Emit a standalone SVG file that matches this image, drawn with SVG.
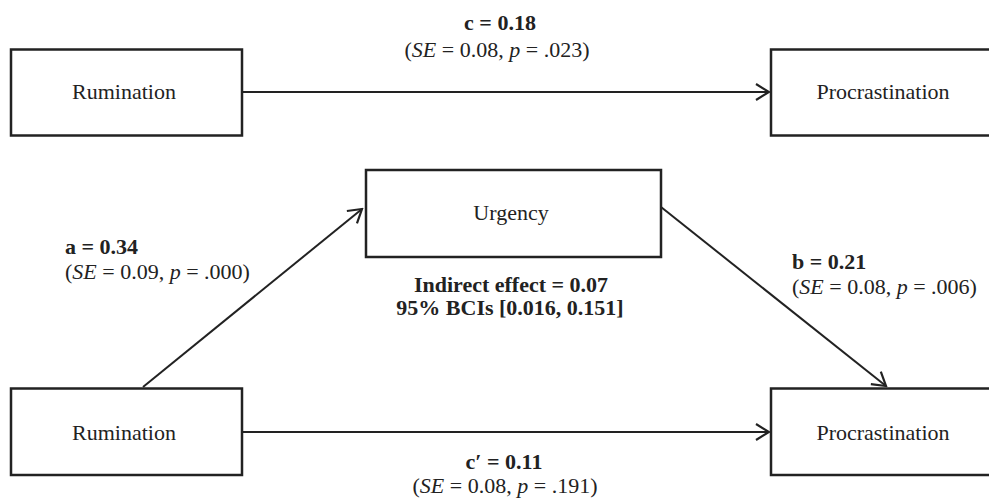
<svg xmlns="http://www.w3.org/2000/svg" width="989" height="500" viewBox="0 0 989 500">
<style>
.box{fill:#fff;stroke:#222;stroke-width:2.5}
.lbl{font-family:"Liberation Serif","Times New Roman",serif;font-size:22px;fill:#222}
.b{font-weight:bold}
.c{text-anchor:middle}
.edge{stroke:#222;stroke-width:2;fill:none}
</style>
<defs>
<marker id="arr" markerUnits="userSpaceOnUse" markerWidth="16" markerHeight="20" refX="14" refY="10" orient="auto" viewBox="0 0 16 20">
<path d="M1,2 L14,10 L1,18" fill="none" stroke="#222" stroke-width="2.2"/>
</marker>
</defs>
<rect width="989" height="500" fill="#fff"/>
<g id="connectors">
<line class="edge" x1="242" y1="92" x2="769" y2="92" marker-end="url(#arr)"/>
<line class="edge" x1="143" y1="387" x2="362" y2="209" marker-end="url(#arr)"/>
<line class="edge" x1="661" y1="207" x2="886" y2="386" marker-end="url(#arr)"/>
<line class="edge" x1="242" y1="432" x2="769" y2="432" marker-end="url(#arr)"/>
</g>
<g id="node-rumination-top">
<rect class="box" x="11" y="49.5" width="231" height="86"/>
<text class="lbl c" x="124" y="99">Rumination</text>
</g>
<g id="node-procrastination-top">
<rect class="box" x="771" y="49.5" width="230" height="86"/>
<text class="lbl c" x="883" y="99">Procrastination</text>
</g>
<g id="node-urgency">
<rect class="box" x="366" y="170" width="295" height="87"/>
<text class="lbl c" x="511" y="220">Urgency</text>
</g>
<g id="node-rumination-bottom">
<rect class="box" x="11" y="388.5" width="231" height="86.5"/>
<text class="lbl c" x="124" y="440">Rumination</text>
</g>
<g id="node-procrastination-bottom">
<rect class="box" x="771" y="388.5" width="230" height="86.5"/>
<text class="lbl c" x="883" y="440">Procrastination</text>
</g>
<g id="labels">
<text class="lbl b c" x="500" y="30">c = 0.18</text>
<text class="lbl c" x="497" y="57">(<tspan font-style="italic">SE</tspan> = 0.08, <tspan font-style="italic">p</tspan> = .023)</text>
<text class="lbl b" x="65" y="254">a = 0.34</text>
<text class="lbl" x="65" y="279">(<tspan font-style="italic">SE</tspan> = 0.09, <tspan font-style="italic">p</tspan> = .000)</text>
<text class="lbl b c" x="511" y="292">Indirect effect = 0.07</text>
<text class="lbl b c" x="510" y="315">95% BCIs [0.016, 0.151]</text>
<text class="lbl b" x="792" y="269">b = 0.21</text>
<text class="lbl" x="792" y="294">(<tspan font-style="italic">SE</tspan> = 0.08, <tspan font-style="italic">p</tspan> = .006)</text>
<text class="lbl b c" x="504" y="469">c′ = 0.11</text>
<text class="lbl c" x="505" y="493">(<tspan font-style="italic">SE</tspan> = 0.08, <tspan font-style="italic">p</tspan> = .191)</text>
</g>
</svg>
